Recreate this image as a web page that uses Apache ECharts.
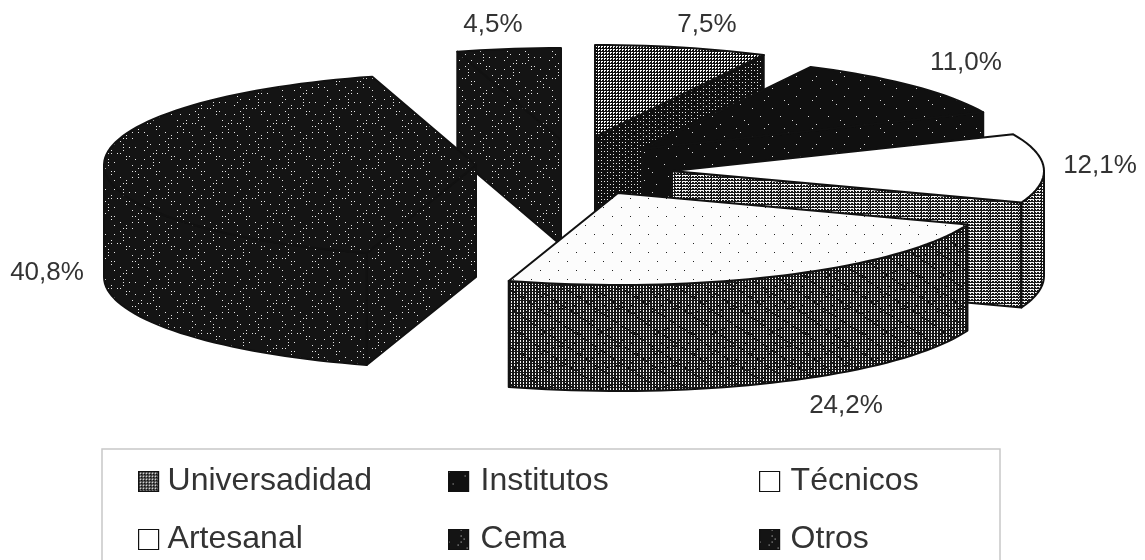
<!DOCTYPE html>
<html>
<head>
<meta charset="utf-8">
<style>
  html, body { margin: 0; background: #fff; }
  #chart { width: 1145px; height: 560px; }
</style>
<script src="https://cdn.jsdelivr.net/npm/echarts@6/dist/echarts.min.js"></script>
</head>
<body>
<div id="chart"></div>
<script>
const categories = ['Universadidad', 'Institutos', 'Técnicos', 'Artesanal', 'Cema', 'Otros']
const shares = [7.5, 11.0, 12.1, 24.2, 40.8, 4.5]

// pie look
const RX = 372
const RY = 92
const depths = [105, 105, 105, 106, 112, 105]
const centers = [[595, 137], [642, 149], [672, 171], [618, 193], [476, 165], [561, 140]]
const labelAt = [[707, 25], [966, 63], [1100, 166], [846, 406], [47, 273], [493, 25]]
const drawOrder = [5, 0, 1, 2, 4, 3]

const total = shares.reduce((a, b) => a + b, 0)
const startAngles = shares.map((_, i) => shares.slice(0, i).reduce((a, b) => a + b, 0) / total * 360)

// small repeating tiles standing in for the photocopied hatch fills
function tile(size, bg, fg, test) {
  const c = document.createElement('canvas')
  c.width = c.height = size
  const ctx = c.getContext('2d')
  ctx.fillStyle = bg
  ctx.fillRect(0, 0, size, size)
  ctx.fillStyle = fg
  for (let y = 0; y < size; y++) {
    for (let x = 0; x < size; x++) {
      if (test(x, y)) ctx.fillRect(x, y, 1, 1)
    }
  }
  return { image: c, repeat: 'repeat' }
}

const speckle = tile(45, '#141414', '#e8e8e8', (x, y) => x % 3 === 0 && y % 3 === 0 && (x * 7 + y * 11 + (x * y) % 5) % 4 === 0 && (x + y * 2) % 5 !== 0)
const speckleSparse = tile(48, '#101010', '#d8d8d8', (x, y) => x % 4 === 0 && y % 4 === 0 && (x * 5 + y * 13 + (x * y) % 7) % 7 === 0)
const gridLight = tile(24, '#0f0f0f', '#ffffff', (x, y) => (x % 3 !== 0 && y % 3 === 1) || (x % 3 === 1 && y % 3 === 2))
const gridDark = tile(24, '#0f0f0f', '#e6e6e6', (x, y) => x % 3 === 1 && y % 3 === 1 && (x + y * 2) % 4 !== 0)
const mesh = tile(57, '#161616', '#f4f4f4', (x, y) => y % 3 !== 0 && x % 3 === 1 && (x * 3 + y * 5) % 19 !== 0 && (x * x + y * 3) % 19 !== 0)
const stripes = tile(30, '#161616', '#f4f4f4', (x, y) => y % 3 === 1 ? x % 7 !== 0 : (y % 3 === 2 && x % 3 === 1))
const whiteDots = tile(36, '#fcfcfc', '#222222', (x, y) => x % 9 === 0 && y % 9 === 0 && (x + y) % 18 === 0)

const topFill = [gridLight, speckleSparse, '#ffffff', whiteDots, speckle, speckle]
const wallFill = [gridDark, speckleSparse, stripes, mesh, speckle, speckle]
const legendFill = [gridLight, speckleSparse, '#ffffff', '#ffffff', speckle, speckle]

function rim(i, deg) {
  const a = deg * Math.PI / 180
  return [centers[i][0] + RX * Math.sin(a), centers[i][1] - RY * Math.cos(a)]
}

function arc(i, from, to) {
  const pts = []
  const n = Math.max(2, Math.ceil((to - from) / 2))
  for (let k = 0; k <= n; k++) pts.push(rim(i, from + (to - from) * k / n))
  return pts
}

function drop(i, pts) {
  return pts.map((p) => [p[0], p[1] + depths[i]])
}

function face(points, fill) {
  return {
    type: 'polygon',
    shape: { points },
    style: { fill, stroke: '#111', lineWidth: 2, lineJoin: 'round' }
  }
}

function renderSlice(i) {
  return function (params, api) {
    const from = startAngles[i]
    const to = from + api.value(0) / total * 360
    const apex = centers[i]
    const sin = (d) => Math.sin(d * Math.PI / 180)
    const children = []

    // cut faces, only those turned towards the viewer
    if (sin(to) > 0) {
      const edge = [apex, rim(i, to)]
      children.push(face(edge.concat(drop(i, edge).reverse()), wallFill[i]))
    }
    if (sin(from) < 0) {
      const edge = [apex, rim(i, from)]
      children.push(face(edge.concat(drop(i, edge).reverse()), wallFill[i]))
    }
    // outer wall on the front half
    const a = Math.max(from, 90)
    const b = Math.min(to, 270)
    if (b > a) {
      const top = arc(i, a, b)
      children.push(face(top.concat(drop(i, top).reverse()), wallFill[i]))
    }
    children.push(face([apex].concat(arc(i, from, to)), topFill[i]))

    children.push({
      type: 'text',
      style: {
        text: api.value(0).toFixed(1).replace('.', ',') + '%',
        x: labelAt[i][0],
        y: labelAt[i][1],
        align: 'center',
        verticalAlign: 'middle',
        font: '26px "Liberation Sans"',
        fill: '#333'
      }
    })
    return { type: 'group', children }
  }
}

const series = drawOrder.map((i) => ({
  type: 'custom',
  name: categories[i],
  coordinateSystem: 'none',
  z: 2,
  silent: true,
  itemStyle: { color: legendFill[i] },
  data: [[shares[i]]],
  renderItem: renderSlice(i)
}))

function legendColumn(names, left, textGap) {
  return {
    data: names,
    orient: 'vertical',
    left,
    top: 464,
    padding: 0,
    itemGap: 23,
    itemWidth: 20,
    itemHeight: 20,
    icon: 'rect',
    selectedMode: false,
    itemStyle: { borderColor: '#111', borderWidth: 1.2 },
    textStyle: {
      fontFamily: 'Liberation Sans',
      fontSize: 32,
      lineHeight: 35,
      color: '#333',
      padding: [0, 0, 0, textGap]
    }
  }
}

const chart = echarts.init(document.getElementById('chart'))
chart.setOption({
  animation: false,
  backgroundColor: '#fff',
  legend: [
    legendColumn([categories[0], categories[3]], 138, 4),
    legendColumn([categories[1], categories[4]], 448, 7),
    legendColumn([categories[2], categories[5]], 759, 6)
  ],
  graphic: [{
    type: 'polyline',
    silent: true,
    shape: { points: [[102, 560], [102, 449], [1000, 449], [1000, 560]] },
    style: { fill: 'none', stroke: '#c8c8c8', lineWidth: 1.5 }
  }],
  series
})
</script>
</body>
</html>
